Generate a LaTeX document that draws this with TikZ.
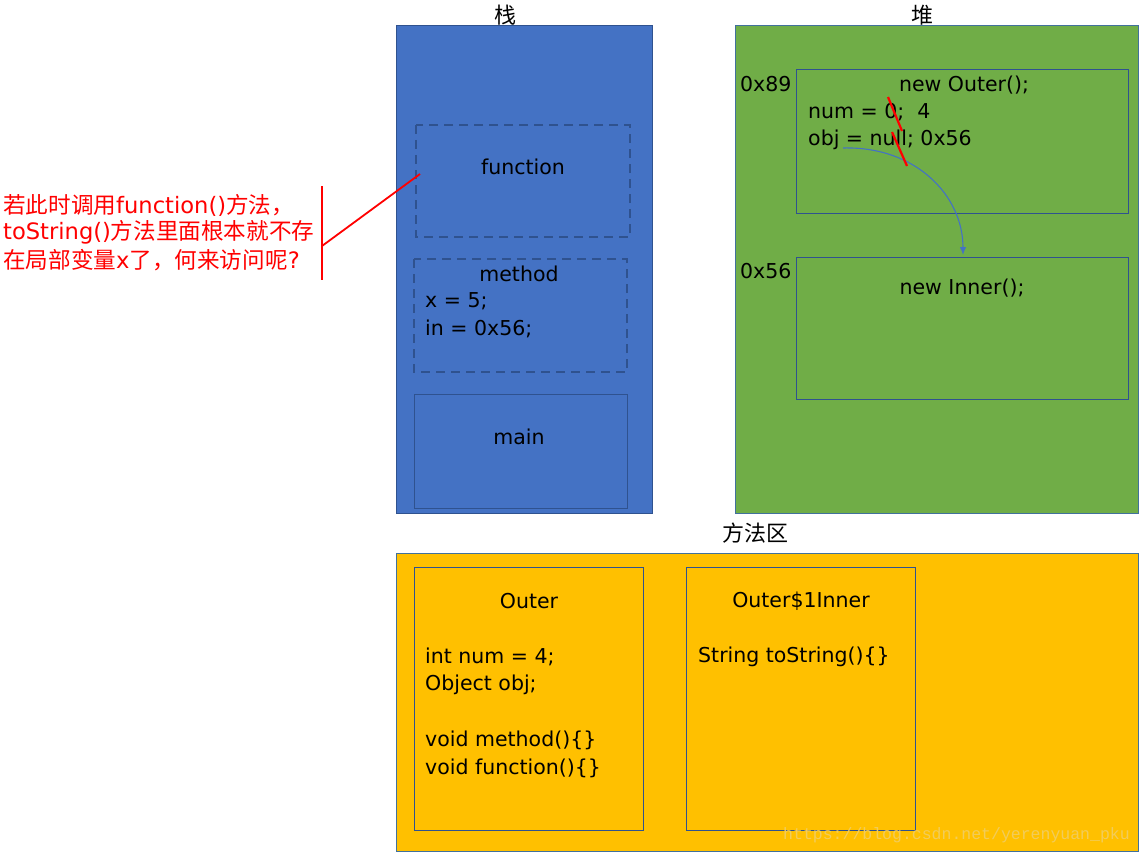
\documentclass[tikz,border=0pt]{standalone}
\usepackage{fontspec}
\usetikzlibrary{arrows.meta}
\setmainfont{DejaVu Sans}
\newfontfamily\cjk{Noto Sans CJK SC}
\newfontfamily\wmfont{Liberation Mono}
\definecolor{stackblue}{HTML}{4472C4}
\definecolor{stackedge}{HTML}{2F528F}
\definecolor{heapgreen}{HTML}{70AD47}
\definecolor{areayellow}{HTML}{FFC000}
\definecolor{edgeblue}{HTML}{41719C}
\definecolor{strikered}{HTML}{FF0000}
\tikzset{
  region/.style={draw=edgeblue, line width=1pt},
  innerbox/.style={draw=stackedge, line width=0.9pt},
  dashbox/.style={draw=stackedge, line width=1.4pt, dash pattern=on 9pt off 6pt},
  txt/.style={font=\fontsize{20.5}{26}\selectfont, inner sep=0pt, text=black},
  ltxt/.style={txt, anchor=west},
  title/.style={font=\cjk\fontsize{22}{24}\selectfont, inner sep=0pt},
  redtxt/.style={font=\fontsize{22.6}{28}\selectfont, text=strikered, inner sep=0pt, anchor=west},
}
\begin{document}
\begin{tikzpicture}[x=1pt,y=-1pt]
\useasboundingbox[fill=white] (0,0) rectangle (1143,856);
% stack
\node[title] (stacklbl) at (505,15) {栈};
\draw[region, fill=stackblue, draw=stackedge] (396,26) rectangle (652,513);
\draw[dashbox] (416,125) rectangle (630,237);
\node[txt] (func) at (523,167) {function};
\draw[dashbox] (414,259) rectangle (627,372);
\node[txt] (meth) at (519,274) {method};
\node[ltxt] (mx) at (425,301) {x = 5;};
\node[ltxt] (min) at (425,329) {in = 0x56;};
\draw[innerbox] (414,394) rectangle (627,508);
\node[txt] (mainn) at (519,437) {main};
% heap
\node[title] (heaplbl) at (922,15) {堆};
\draw[region, fill=heapgreen] (735,26) rectangle (1138,513);
\node[ltxt] (a89) at (740,84) {0x89};
\draw[innerbox] (796,69) rectangle (1128,213);
\node[txt] (newouter) at (964,85) {new Outer();};
\node[ltxt] (num) at (808,112) {num = 0;\ \ 4};
\node[ltxt] (obj) at (808,140) {obj = null; 0x56};
\node[ltxt] (a56) at (740,271) {0x56};
\draw[innerbox] (796,257) rectangle (1128,399);
\node[txt] (newinner) at (962,288) {new Inner();};
\coordinate (arrs) at (843,148);
\coordinate (arre) at (963,255);
\draw[stackblue, line width=1.1pt, -{Latex[length=8pt,width=6.5pt]}] (arrs) .. controls (915,146) and (963,195) .. (arre);
\coordinate (s1a) at (888,97);
\coordinate (s1b) at (902,131);
\coordinate (s2a) at (892,132);
\coordinate (s2b) at (907,166);
\draw[strikered, line width=2.2pt] (s1a) -- (s1b);
\draw[strikered, line width=2.2pt] (s2a) -- (s2b);
% method area
\node[title] (arealbl) at (755,533) {方法区};
\draw[region, fill=areayellow] (396,553) rectangle (1138,851);
\draw[innerbox] (414,567) rectangle (643,830);
\node[txt] (outert) at (529,601) {Outer};
\node[ltxt] (o1) at (425,657) {int num = 4;};
\node[ltxt] (o2) at (425,685) {Object obj;};
\node[ltxt] (o3) at (425,740) {void method()\{\}};
\node[ltxt] (o4) at (425,768) {void function()\{\}};
\draw[innerbox] (686,567) rectangle (915,830);
\node[txt] (innert) at (801,601) {Outer\$1Inner};
\node[ltxt] (i1) at (698,657) {String toString()\{\}};
\node[font=\wmfont\fontsize{16.5}{17}\selectfont, text=areayellow!85!gray!70!white, inner sep=0pt, anchor=west] (wm) at (783,835) {https://blog.csdn.net/yerenyuan\_pku};
% red annotation
\node[redtxt] (r1) at (3,205) {{\cjk 若此时调用}function(){\cjk 方法，}};
\node[redtxt] (r2) at (3,232) {toString(){\cjk 方法里面根本就不存}};
\node[redtxt] (r3) at (3,260) {{\cjk 在局部变量}x{\cjk 了，何来访问呢}?};
\coordinate (bt) at (322,186);
\coordinate (bb) at (322,280);
\coordinate (bm) at (322,246);
\coordinate (bf) at (420,174);
\draw[strikered, line width=1.8pt] (bt) -- (bb);
\draw[strikered, line width=1.8pt] (bm) -- (bf);
\end{tikzpicture}
\end{document}
